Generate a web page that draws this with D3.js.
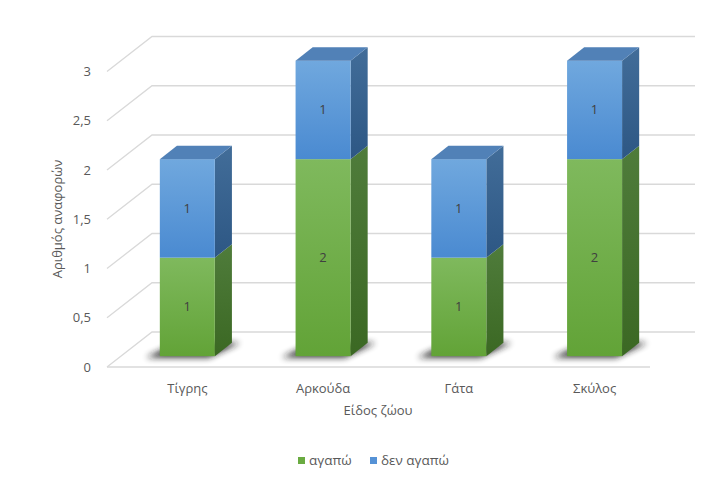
<!DOCTYPE html>
<html>
<head>
<meta charset="utf-8">
<script src="https://cdn.jsdelivr.net/npm/d3@7"></script>
<style>
  body { margin: 0; background: #fff; }
  text { font-family: "Open Sans", "Noto Sans", sans-serif; fill: #595959; }
</style>
</head>
<body>
<div class="svgs"></div>
<script>
const categories = ["Τίγρης", "Αρκούδα", "Γάτα", "Σκύλος"]
const agapo = [1, 2, 1, 2]
const denAgapo = [1, 1, 1, 1]
const seriesNames = ["αγαπώ", "δεν αγαπώ"]
const yTicks = [0, 0.5, 1, 1.5, 2, 2.5, 3]

const width = 724
const height = 477
// oblique depth vector for the full floor depth
const DX = 45, DY = 35
const z0 = 0.31, z1 = 0.69
const barW = 55

const x = d3.scaleBand().domain(categories).range([107, 650])
const y = d3.scaleLinear().domain([0, 3]).range([367, 71.5])

const P = (xf, v, z) => [xf + DX * z, y(v) - DY * z]

const svg = d3.create("svg")
    .attr("width", width)
    .attr("height", height)

const defs = svg.append("defs")
function grad(id, c1, c2) {
    const g = defs.append("linearGradient").attr("id", id)
        .attr("x1", 0).attr("y1", 0).attr("x2", 0).attr("y2", 1)
    g.append("stop").attr("offset", 0).attr("stop-color", c1)
    g.append("stop").attr("offset", 1).attr("stop-color", c2)
}
grad("gFront", "#7fb95d", "#62a337")
grad("gSide", "#4f7c3b", "#3b6823")
grad("bFront", "#70a8de", "#4a8ad1")
grad("bSide", "#426d99", "#2d5784")
defs.append("filter").attr("id", "blur")
    .attr("x", "-50%").attr("y", "-50%").attr("width", "200%").attr("height", "200%")
    .append("feGaussianBlur").attr("stdDeviation", 3)

// gridlines: side wall diagonal + back wall horizontal
const grid = svg.append("g").attr("stroke", "#d9d9d9").attr("fill", "none").attr("stroke-width", 1.3)
yTicks.forEach(v => {
    const a = P(107, v, 0), b = P(107, v, 1), c = P(650, v, 1)
    grid.append("path").attr("d", `M${a}L${b}L${c}`)
})
// floor front edge
grid.append("path").attr("d", `M${P(107, 0, 0)}L${P(650, 0, 0)}`)

// y tick labels
svg.append("g").selectAll("text")
    .data(yTicks).join("text")
    .attr("x", 91)
    .attr("y", d => y(d))
    .attr("dy", "0.35em")
    .attr("text-anchor", "end")
    .style("font-size", "13px")
    .text(d => String(d).replace(".", ","))

// category labels
svg.append("g").selectAll("text")
    .data(categories).join("text")
    .attr("x", d => x(d) + x.bandwidth() / 2 + 12.5)
    .attr("y", 393)
    .attr("text-anchor", "middle")
    .style("font-size", "13px")
    .text(d => d)

// axis titles
svg.append("text")
    .attr("transform", "translate(62,219) rotate(-90)")
    .attr("text-anchor", "middle")
    .style("font-size", "13px")
    .text("Αριθμός αναφορών")

svg.append("text")
    .attr("x", 378).attr("y", 415)
    .attr("text-anchor", "middle")
    .style("font-size", "13px")
    .text("Είδος ζώου")

// bars
const data = categories.map((c, i) => ({ cat: c, segs: [
    { v0: 0, v1: agapo[i], val: agapo[i], front: "url(#gFront)", side: "url(#gSide)", top: "#5f8d43" },
    { v0: agapo[i], v1: agapo[i] + denAgapo[i], val: denAgapo[i], front: "url(#bFront)", side: "url(#bSide)", top: "#5181b7" }
]}))

const poly = pts => "M" + pts.join("L") + "Z"

data.forEach(d => {
    const xl = x(d.cat) + x.bandwidth() / 2 - 29
    const xr = xl + barW
    const g = svg.append("g")
    // base shadow
    g.append("path")
        .attr("d", poly([P(xl - 12, 0, z0 - 0.04), P(xr - 4, 0, z0 - 0.04), P(xr + 8, 0, z1), P(xl, 0, z1)]))
        .attr("fill", "#1a1a1a")
        .attr("opacity", 0.9)
        .attr("filter", "url(#blur)")
    d.segs.forEach((s, k) => {
        // side face
        g.append("path")
            .attr("d", poly([P(xr, s.v0, z0), P(xr, s.v0, z1), P(xr, s.v1, z1), P(xr, s.v1, z0)]))
            .attr("fill", s.side)
        // front face
        const [fx, fy] = P(xl, s.v1, z0)
        const [, fb] = P(xl, s.v0, z0)
        g.append("rect")
            .attr("x", fx).attr("y", fy)
            .attr("width", barW).attr("height", fb - fy)
            .attr("fill", s.front)
        if (k === d.segs.length - 1) {
            g.append("path")
                .attr("d", poly([P(xl, s.v1, z0), P(xr, s.v1, z0), P(xr, s.v1, z1), P(xl, s.v1, z1)]))
                .attr("fill", s.top)
        }
        g.append("text")
            .attr("x", fx + barW / 2)
            .attr("y", (fy + fb) / 2)
            .attr("dy", "0.35em")
            .attr("text-anchor", "middle")
            .style("font-size", "13px")
            .style("fill", "#404040")
            .text(s.val)
    })
})

// legend
const legend = svg.append("g")
const legendColors = ["#6aab41", "#5592d6"]
const legendX = [298, 370]
seriesNames.forEach((n, i) => {
    legend.append("rect")
        .attr("x", legendX[i]).attr("y", 457)
        .attr("width", 7).attr("height", 7)
        .attr("fill", legendColors[i])
    legend.append("text")
        .attr("x", legendX[i] + 11).attr("y", 465)
        .style("font-size", "13.5px")
        .text(n)
})

document.querySelector(".svgs").appendChild(svg.node())
</script>
</body>
</html>
